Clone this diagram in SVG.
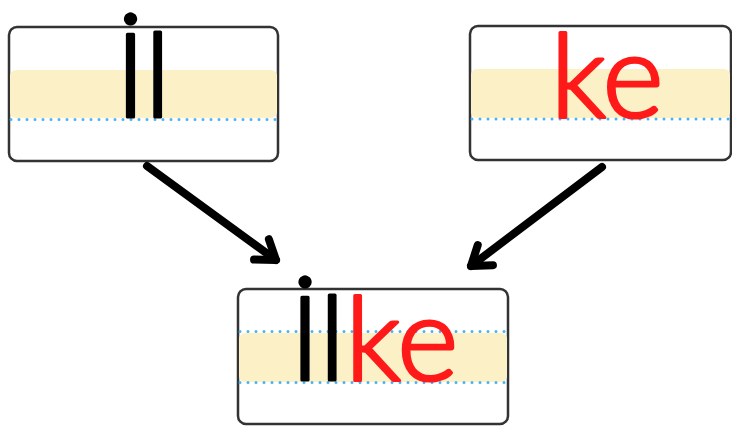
<svg xmlns="http://www.w3.org/2000/svg" width="732" height="434" viewBox="0 0 732 434">
<style>
.box{fill:#fff;stroke:#333;stroke-width:2.5}
.band{fill:#FCF1C6}
.dot{stroke:#4AB3F0;stroke-width:3;stroke-linecap:round;stroke-dasharray:0 8;fill:none}
.word{font-family:Lato,"Open Sans",sans-serif;font-size:117px;font-weight:300;text-anchor:middle;fill:#000;stroke:#000;stroke-width:3.2;stroke-linejoin:round;stroke-linecap:round}
.red{fill:#FF1A1A;stroke:#FF1A1A}
.arrow{stroke:#000;stroke-width:8;stroke-linecap:round;fill:none}
</style>
<defs>
<marker id="head" markerUnits="userSpaceOnUse" markerWidth="40" markerHeight="40" viewBox="-30 -20 40 40" refX="0" refY="0" orient="auto" overflow="visible">
<path d="M-18,-12.6 L0,0 L-18,12.6" fill="none" stroke="#000" stroke-width="8" stroke-linecap="round" stroke-linejoin="round"/>
</marker>
</defs>
<rect width="732" height="434" fill="#fff"/>
<g id="node-il">
<rect class="box" x="9" y="27" width="269" height="134" rx="8"/>
<rect class="band" x="10" y="70" width="267" height="48" rx="6"/>
<line class="dot" x1="11" y1="119.5" x2="277" y2="119.5"/>
<text class="word" x="143" y="117">İl</text>
</g>
<g id="node-ke">
<rect class="box" x="470" y="26" width="261" height="134" rx="8"/>
<rect class="band" x="471" y="69" width="259" height="49" rx="6"/>
<line class="dot" x1="472" y1="119" x2="730" y2="119"/>
<text class="word red" x="607" y="117">ke</text>
</g>
<g id="node-ilke">
<rect class="box" x="238" y="289" width="270" height="135" rx="8"/>
<rect class="band" x="239" y="333" width="268" height="49" rx="6"/>
<line class="dot" x1="240" y1="331.5" x2="507" y2="331.5"/>
<line class="dot" x1="240" y1="382.5" x2="507" y2="382.5"/>
<text class="word" x="374" y="380">İl<tspan class="red">ke</tspan></text>
</g>
<g id="connectors">
<line class="arrow" x1="147" y1="166" x2="276" y2="260" marker-end="url(#head)"/>
<line class="arrow" x1="602" y1="167" x2="471" y2="266" marker-end="url(#head)"/>
</g>
</svg>
